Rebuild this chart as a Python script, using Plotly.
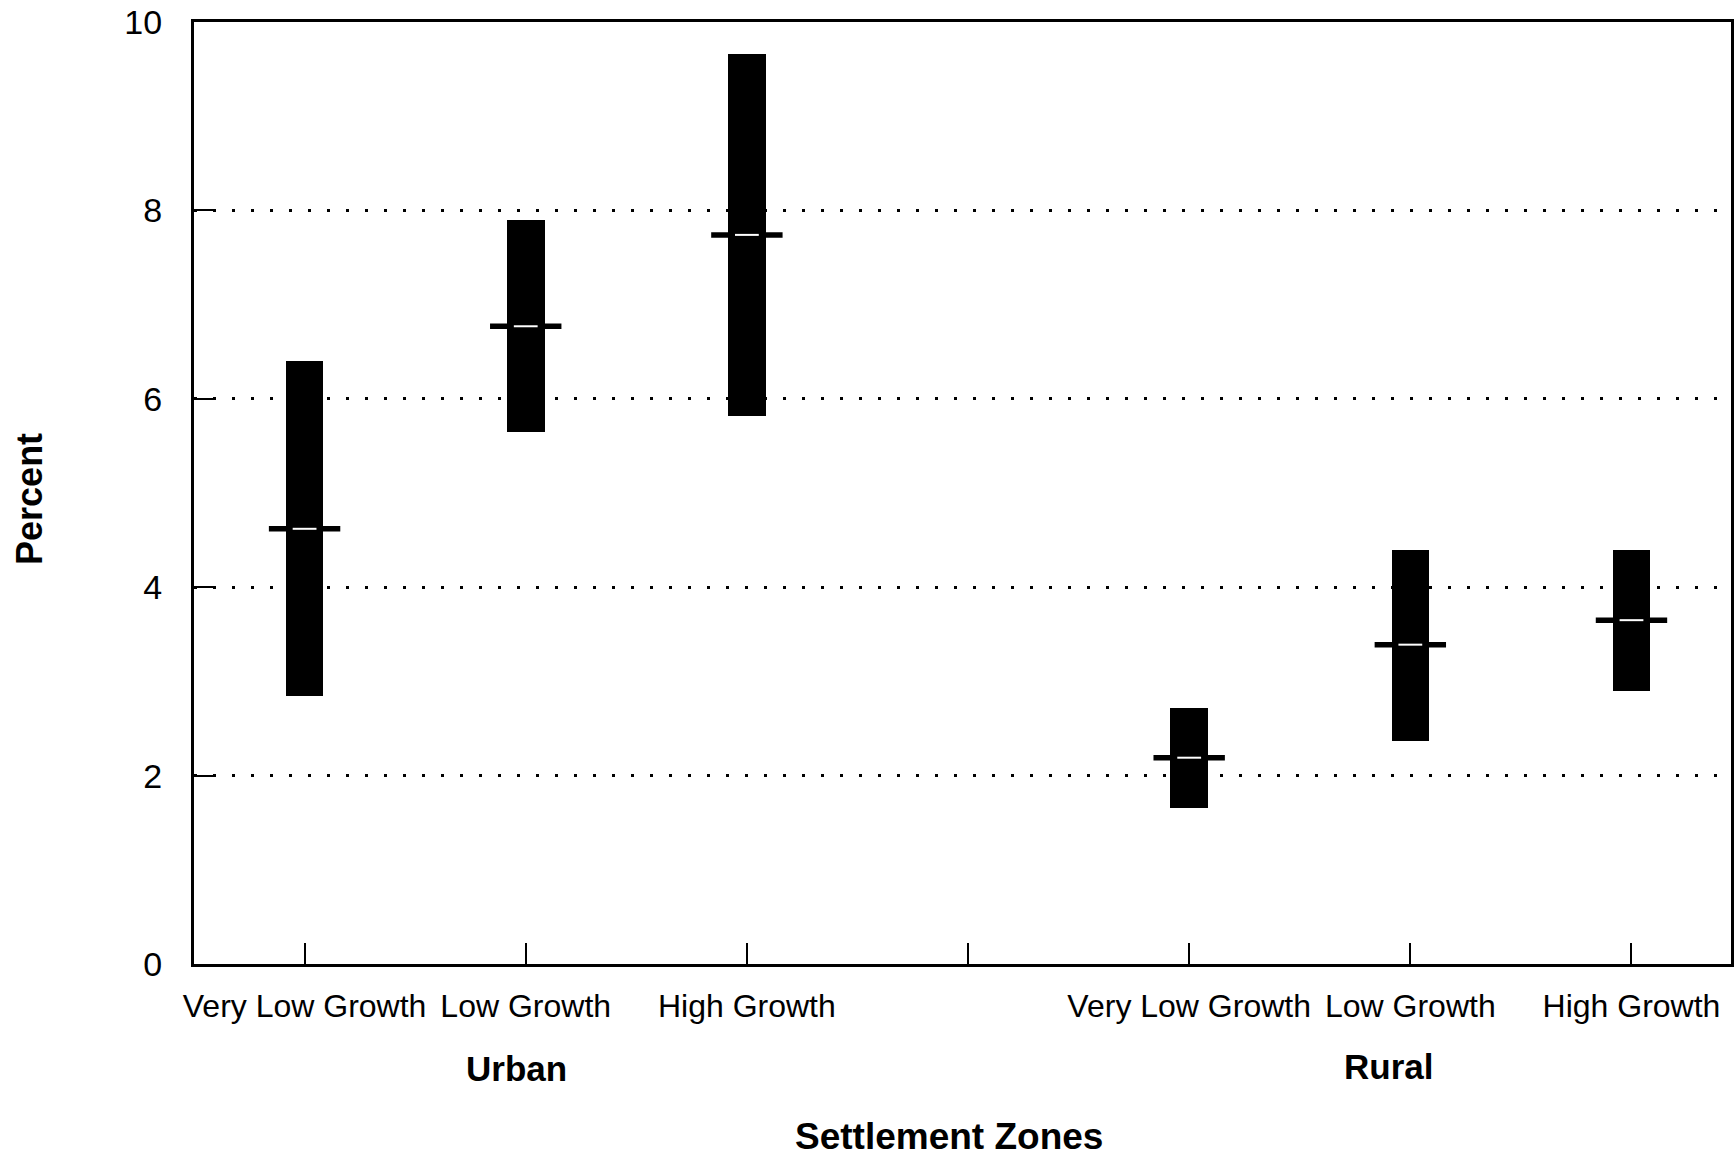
import plotly.graph_objects as go

# ---- data ----
groups = ["Urban", "Rural"]
growth_levels = ["Very Low Growth", "Low Growth", "High Growth"]

urban_low = [2.84, 5.65, 5.82]
urban_high = [6.40, 7.90, 9.66]
urban_mean = [4.62, 6.77, 7.74]

rural_low = [1.66, 2.37, 2.90]
rural_high = [2.72, 4.40, 4.39]
rural_mean = [2.19, 3.39, 3.65]

y_ticks = [0, 2, 4, 6, 8, 10]

# ---- build positions: 3 categories per group, one empty slot between groups ----
lows = urban_low + rural_low
highs = urban_high + rural_high
means = urban_mean + rural_mean
xs = []
for g in range(len(groups)):
    for i in range(len(growth_levels)):
        xs.append(g * (len(growth_levels) + 1) + i + 1)

tick_vals = list(range(1, 2 * len(growth_levels) + 2))
tick_text = growth_levels + [""] + growth_levels

FONT = "Liberation Sans, Arial, Helvetica, sans-serif"

fig = go.Figure()
fig.add_trace(go.Bar(
    x=xs,
    y=[h - l for h, l in zip(highs, lows)],
    base=lows,
    width=0.17,
    marker=dict(color="black", line=dict(width=0)),
    showlegend=False,
))
fig.add_trace(go.Scatter(
    x=xs, y=means, mode="markers",
    marker=dict(symbol="line-ew", size=51, line=dict(width=5.5, color="black")),
    showlegend=False,
))
fig.add_trace(go.Scatter(
    x=xs, y=means, mode="markers",
    marker=dict(symbol="line-ew", size=17, line=dict(width=2, color="white")),
    showlegend=False,
))

fig.update_layout(
    width=1736, height=1159,
    margin=dict(l=194, r=5, t=22, b=195),
    paper_bgcolor="white", plot_bgcolor="white",
    font=dict(family=FONT, color="black"),
    bargap=0,
    xaxis=dict(
        range=[0.5, 7.45], automargin=False,
        tickmode="array", tickvals=tick_vals, ticktext=tick_text,
        ticks="inside", ticklen=21, tickwidth=2, tickcolor="black",
        showline=True, linewidth=3, linecolor="black", mirror=True,
        showgrid=False, zeroline=False,
        tickfont=dict(size=32, family=FONT, color="black"),
        ticklabelstandoff=12,
    ),
    yaxis=dict(
        range=[0, 10], automargin=False,
        tickmode="array", tickvals=y_ticks,
        ticks="inside", ticklen=22, tickwidth=2, tickcolor="black",
        showline=True, linewidth=3, linecolor="black", mirror=True,
        showgrid=True, gridcolor="black", gridwidth=2.5, griddash="3px,16px",
        zeroline=False,
        tickfont=dict(size=34, family=FONT, color="black"),
        ticklabelstandoff=22,
    ),
    annotations=[
        dict(text="<b>Urban</b>", x=1.96, xref="x", y=-0.111, yref="paper",
             showarrow=False, font=dict(size=35, family=FONT, color="black"),
             xanchor="center", yanchor="middle"),
        dict(text="<b>Rural</b>", x=5.9, xref="x", y=-0.109, yref="paper",
             showarrow=False, font=dict(size=35, family=FONT, color="black"),
             xanchor="center", yanchor="middle"),
        dict(text="<b>Settlement Zones</b>", x=0.491, xref="paper", y=-0.207, yref="paper",
             showarrow=False, font=dict(size=37, family=FONT, color="black"),
             xanchor="center", yanchor="bottom"),
        dict(text="<b>Percent</b>", x=-0.1074, xref="paper", y=0.4936, yref="paper",
             showarrow=False, textangle=-90, font=dict(size=36, family=FONT, color="black"),
             xanchor="center", yanchor="middle"),
    ],
)

# remove the browser's default 8px body margin so the figure fills the window exactly
fig.write_html(
    "out.html",
    config={"displayModeBar": False},
    post_script="document.body.style.margin='0';document.body.style.overflow='hidden';",
)
